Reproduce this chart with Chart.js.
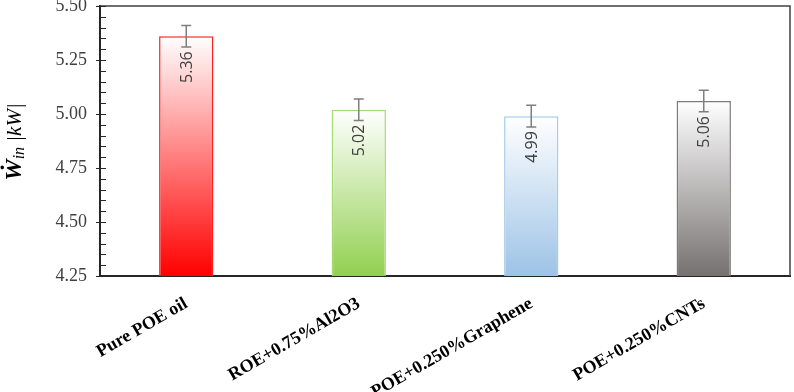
<!DOCTYPE html>
<html>
<head>
<meta charset="utf-8">
<script src="https://cdn.jsdelivr.net/npm/chart.js@4.4.1/dist/chart.umd.min.js"></script>
<style>
html,body{margin:0;padding:0;background:#fff;}
#wrap{width:794px;height:392px;position:relative;}
</style>
</head>
<body>
<div id="wrap"><canvas id="c" width="794" height="392"></canvas></div>
<script>
const categories = ["Pure POE oil", "ROE+0.75%Al2O3", "POE+0.250%Graphene", "POE+0.250%CNTs"];
const values = [5.36, 5.02, 4.99, 5.06];
const errors = [0.05, 0.05, 0.05, 0.05];
const valueLabels = ["5.36", "5.02", "4.99", "5.06"];
const yTicks = [4.25, 4.50, 4.75, 5.00, 5.25, 5.50];
const bottomColors = ["#ff0000", "#92d050", "#9dc3e6", "#767171"];
const borderColors = ["#ff2020", "#a6da72", "#a9cbea", "#7f7a7a"];

const gradFill = (context) => {
  const chart = context.chart;
  const area = chart.chartArea;
  if (!area) return bottomColors[context.dataIndex];
  const ys = chart.scales.y;
  const i = context.dataIndex;
  const top = ys.getPixelForValue(values[i]);
  const g = chart.ctx.createLinearGradient(0, top, 0, area.bottom);
  g.addColorStop(0, "#ffffff");
  g.addColorStop(1, bottomColors[i]);
  return g;
};

const decorPlugin = {
  id: 'decor',
  afterDatasetsDraw(chart) {
    const ctx = chart.ctx;
    const ys = chart.scales.y;
    const meta = chart.getDatasetMeta(0);
    ctx.save();
    ctx.strokeStyle = "#7f7f7f";
    ctx.lineWidth = 1.5;
    meta.data.forEach((bar, i) => {
      const x = bar.x;
      const hi = ys.getPixelForValue(values[i] + errors[i]);
      const lo = ys.getPixelForValue(values[i] - errors[i]);
      ctx.beginPath();
      ctx.moveTo(x, hi); ctx.lineTo(x, lo);
      ctx.moveTo(x - 5, hi); ctx.lineTo(x + 5, hi);
      ctx.moveTo(x - 5, lo); ctx.lineTo(x + 5, lo);
      ctx.stroke();
    });
    ctx.restore();
    meta.data.forEach((bar, i) => {
      ctx.save();
      ctx.translate(bar.x + 1, bar.y + 15);
      ctx.rotate(-Math.PI / 2);
      ctx.font = "16px 'Open Sans'";
      ctx.fillStyle = "#404040";
      ctx.textAlign = "right";
      ctx.textBaseline = "middle";
      ctx.fillText(valueLabels[i], 0, 0);
      ctx.restore();
    });
  },
  afterDraw(chart) {
    const ctx = chart.ctx;
    const a = chart.chartArea;
    const ys = chart.scales.y;
    ctx.save();
    ctx.strokeStyle = "#404040";
    ctx.lineWidth = 1.5;
    ctx.beginPath();
    ctx.moveTo(a.left, a.top); ctx.lineTo(a.right, a.top); ctx.lineTo(a.right, a.bottom);
    ctx.stroke();
    ctx.strokeStyle = "#262626";
    ctx.lineWidth = 1.2;
    ctx.beginPath();
    for (let k = 0; k <= 25; k++) {
      const v = 4.25 + k * 0.05;
      const y = Math.round(ys.getPixelForValue(v)) + 0.5;
      const major = (k % 5 === 0);
      ctx.moveTo(major ? a.left - 4 : a.left, y);
      ctx.lineTo(a.left + 6, y);
    }
    ctx.stroke();
    ctx.translate(15, 142);
    ctx.rotate(-Math.PI / 2);
    ctx.fillStyle = "#000";
    ctx.textBaseline = "middle";
    const p1 = "W\u0307", p2 = "in", p3 = " |kW|";
    const f1 = "bold italic 24px 'Liberation Serif'";
    const f2 = "italic 16px 'Liberation Serif'";
    const f3 = "italic 21px 'Liberation Serif'";
    ctx.font = f1; const w1 = ctx.measureText(p1).width;
    ctx.font = f2; const w2 = ctx.measureText(p2).width;
    ctx.font = f3; const w3 = ctx.measureText(p3).width;
    let x = -(w1 + w2 + w3) / 2;
    ctx.font = f1; ctx.fillText(p1, x, 0); x += w1;
    ctx.font = f2; ctx.fillText(p2, x, 5); x += w2;
    ctx.font = f3; ctx.fillText(p3, x, 0);
    ctx.restore();
  }
};

new Chart(document.getElementById('c'), {
  type: 'bar',
  data: {
    labels: categories,
    datasets: [{
      data: values,
      backgroundColor: gradFill,
      borderColor: borderColors,
      borderWidth: 1.5,
      borderSkipped: false,
      categoryPercentage: 1,
      barPercentage: 0.315
    }]
  },
  options: {
    responsive: false,
    animation: false,
    devicePixelRatio: 1,
    layout: { padding: { left: 0, right: 4, top: 6, bottom: 0 } },
    plugins: { legend: { display: false }, tooltip: { enabled: false } },
    scales: {
      x: {
        grid: { display: false, drawTicks: false },
        border: { display: true, color: "#262626", width: 2 },
        ticks: {
          autoSkip: false,
          maxRotation: 30, minRotation: 30,
          padding: 17,
          color: "#000",
          font: { family: "'Liberation Serif'", size: 18, weight: 'bold' }
        },
        afterFit(s) { s.height = 116; s.paddingLeft = 0; s.paddingRight = 0; }
      },
      y: {
        min: 4.25, max: 5.50,
        afterBuildTicks(s) { s.ticks = yTicks.map(v => ({ value: v })); },
        grid: { display: false, drawTicks: false },
        border: { display: true, color: "#262626", width: 2 },
        ticks: {
          padding: 13,
          color: "#404040",
          font: { family: "'Liberation Serif'", size: 18 },
          callback: (v) => Number(v).toFixed(2)
        },
        afterFit(s) { s.width = 100; s.paddingTop = 0; s.paddingBottom = 0; }
      }
    }
  },
  plugins: [decorPlugin]
});
</script>
</body>
</html>
